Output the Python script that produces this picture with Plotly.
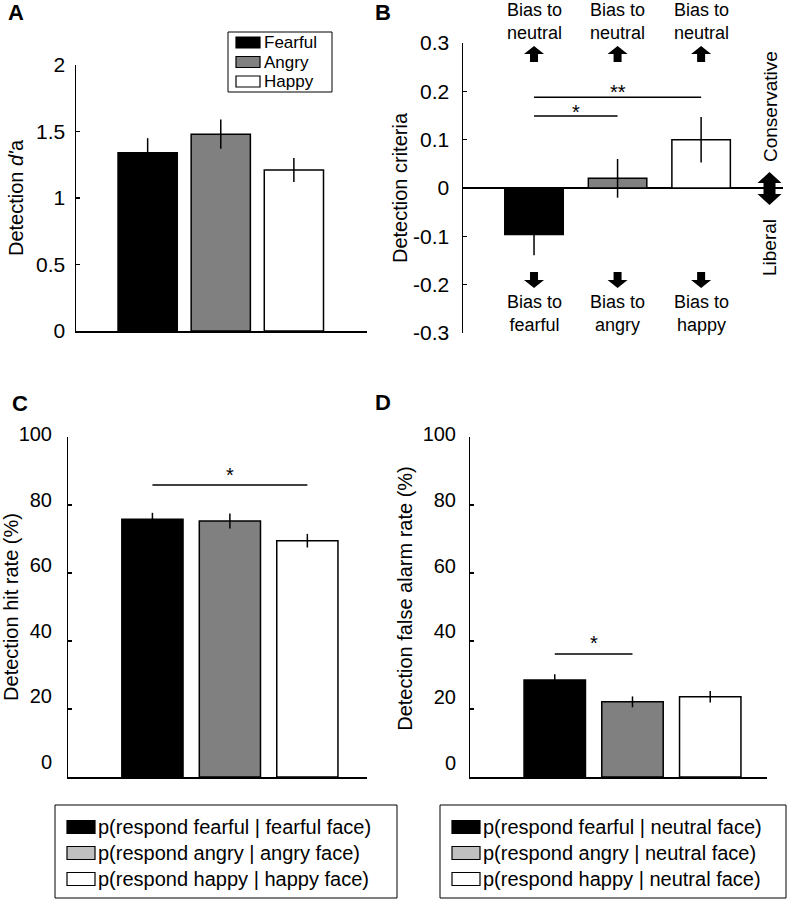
import plotly.graph_objects as go

W, H = 793, 903
FONT = "Arial, Liberation Sans, Helvetica, sans-serif"

# ---------------- data ----------------
emotions = ["Fearful", "Angry", "Happy"]
a_dprime = [1.34, 1.48, 1.21]
a_err = [0.11, 0.11, 0.09]
b_criteria = [-0.096, 0.02, 0.10]
b_err = [0.043, 0.040, 0.047]
c_hit = [75.8, 75.3, 69.5]
c_err = [1.9, 2.2, 2.0]
d_fa = [28.5, 22.1, 23.6]
d_err = [1.7, 1.6, 1.7]

c_legend_names = ["p(respond fearful | fearful face)",
                  "p(respond angry | angry face)",
                  "p(respond happy | happy face)"]
d_legend_names = ["p(respond fearful | neutral face)",
                  "p(respond angry | neutral face)",
                  "p(respond happy | neutral face)"]
b_top_words = ["neutral", "neutral", "neutral"]
b_bottom_words = ["fearful", "angry", "happy"]

a_ticks = [0, 0.5, 1, 1.5, 2]
b_ticks = [-0.3, -0.2, -0.1, 0, 0.1, 0.2, 0.3]
b_ticktext = ["-0.3", "-0.2", "-0.1", "0", "0.1", "0.2", "0.3"]
pct_ticks = [0, 20, 40, 60, 80, 100]

# ---------------- style ----------------
bar_colors = ["#000000", "#808080", "#ffffff"]
legend_cd_colors = ["#000000", "#c0c0c0", "#ffffff"]
LW = 1.5


def fx(px):
    return px / W


def fy(py):
    return 1 - py / H


fig = go.Figure()


def add_bars(vals, errs, xa, ya, width, names):
    for i, (v, e) in enumerate(zip(vals, errs)):
        fig.add_trace(go.Bar(
            x=[i], y=[v], width=[width],
            marker=dict(color=bar_colors[i], line=dict(color="black", width=LW)),
            error_y=dict(type="data", array=[e], color="black", thickness=LW, width=0),
            name=names[i], showlegend=False,
            xaxis=xa, yaxis=ya, hoverinfo="skip",
        ))


add_bars(a_dprime, a_err, "x", "y", 0.81, emotions)
add_bars(b_criteria, b_err, "x2", "y2", 0.70, emotions)
add_bars(c_hit, c_err, "x3", "y3", 0.79, c_legend_names)
add_bars(d_fa, d_err, "x4", "y4", 0.79, d_legend_names)

# label-only axes for C and D (labels sit slightly compressed relative to ticks)
fig.add_trace(go.Scatter(x=[None], y=[None], xaxis="x5", yaxis="y5", showlegend=False, hoverinfo="skip"))
fig.add_trace(go.Scatter(x=[None], y=[None], xaxis="x6", yaxis="y6", showlegend=False, hoverinfo="skip"))

tick_common = dict(ticks="inside", ticklen=4, tickwidth=LW, tickcolor="black",
                   showline=True, linecolor="black", linewidth=LW,
                   showgrid=False, zeroline=False, automargin=False)
hid_x = dict(showgrid=False, zeroline=False, showticklabels=False, ticks="", automargin=False)

layout = dict(
    template="none",
    width=W, height=H, margin=dict(l=0, r=0, t=0, b=0, pad=0, autoexpand=False),
    paper_bgcolor="white", plot_bgcolor="rgba(0,0,0,0)",
    font=dict(family=FONT, color="black"),
    barmode="overlay", hovermode=False, showlegend=False,
    # ---- A ----
    xaxis=dict(domain=[fx(76), fx(367)], range=[-0.98, 3.0], anchor="y",
               showline=True, linecolor="black", linewidth=LW, **hid_x),
    yaxis=dict(domain=[fy(331), fy(65)], range=[0, 2], anchor="x",
               tickvals=a_ticks, tickfont=dict(size=21), ticklabelstandoff=5,
               title=dict(text="Detection <i>d'</i>a", font=dict(size=20), standoff=7),
               **tick_common),
    # ---- B ----
    xaxis2=dict(domain=[fx(463), fx(783)], range=[-0.85, 2.98], anchor="y2",
                showline=False, **hid_x),
    yaxis2=dict(domain=[fy(333), fy(43)], range=[-0.3, 0.3], anchor="x2",
                tickvals=b_ticks, ticktext=b_ticktext, tickfont=dict(size=21),
                ticklabelstandoff=8, automargin=False,
                title=dict(text="Detection criteria", font=dict(size=20), standoff=0),
                ticks="inside", ticklen=4, tickwidth=LW, tickcolor="black",
                showline=True, linecolor="black", linewidth=LW, showgrid=False,
                zeroline=True, zerolinecolor="black", zerolinewidth=LW),
    # ---- C ----
    xaxis3=dict(domain=[fx(68), fx(367)], range=[-1.09, 2.77], anchor="y3",
                showline=True, linecolor="black", linewidth=LW, **hid_x),
    yaxis3=dict(domain=[fy(777), fy(437)], range=[0, 100], anchor="x3",
                tickvals=pct_ticks, showticklabels=False,
                title=dict(text="Detection hit rate (%)", font=dict(size=20), standoff=44),
                **tick_common),
    xaxis5=dict(domain=[fx(68), fx(367)], range=[-1.09, 2.77], anchor="y5", visible=False),
    yaxis5=dict(domain=[fy(762), fy(434)], range=[0, 100], anchor="x5",
                tickvals=pct_ticks, tickfont=dict(size=20), ticklabelstandoff=15,
                showline=False, ticks="", showgrid=False, zeroline=False, automargin=False),
    # ---- D ----
    xaxis4=dict(domain=[fx(470), fx(767)], range=[-1.09, 2.73], anchor="y4",
                showline=True, linecolor="black", linewidth=LW, **hid_x),
    yaxis4=dict(domain=[fy(777), fy(437)], range=[0, 100], anchor="x4",
                tickvals=pct_ticks, showticklabels=False, **tick_common),
    xaxis6=dict(domain=[fx(470), fx(767)], range=[-1.09, 2.73], anchor="y6", visible=False),
    yaxis6=dict(domain=[fy(763), fy(434)], range=[0, 100], anchor="x6",
                tickvals=pct_ticks, tickfont=dict(size=20), ticklabelstandoff=13,
                title=dict(text="Detection false alarm rate (%)", font=dict(size=20), standoff=4),
                showline=False, ticks="", showgrid=False, zeroline=False, automargin=False),
)
fig.update_layout(**layout)

ann = []
shapes = []

# panel letters
for letter, (px, py) in zip("ABCD", [(16, 13), (383, 13), (20, 403), (383, 402)]):
    ann.append(dict(text=f"<b>{letter}</b>", x=fx(px), y=fy(py), xref="paper", yref="paper",
                    showarrow=False, font=dict(size=22), xanchor="center", yanchor="middle"))

# significance bars
sig = [
    ("x2", "y2", 0, 1, 0.149, "*", -9),
    ("x2", "y2", 0, 2, 0.188, "**", -8),
    ("x3", "y3", 0, 2, 85.9, "*", -3),
    ("x4", "y4", 0, 1, 36.2, "*", -2),
]
for xa, ya, i0, i1, yv, star, ys in sig:
    shapes.append(dict(type="line", xref=xa, yref=ya, x0=i0, x1=i1, y0=yv, y1=yv,
                       line=dict(color="black", width=LW)))
    ann.append(dict(text=star, x=(i0 + i1) / 2, y=yv, xref=xa, yref=ya, showarrow=False,
                    xanchor="center", yanchor="bottom", yshift=ys, font=dict(size=20)))

# B: bias labels and arrows
for i in range(3):
    ann.append(dict(text="Bias to<br>" + b_top_words[i], x=i, y=fy(21.5), xref="x2", yref="paper",
                    showarrow=False, font=dict(size=18), xanchor="center", yanchor="middle"))
    ann.append(dict(text="Bias to<br>" + b_bottom_words[i], x=i, y=fy(313), xref="x2", yref="paper",
                    showarrow=False, font=dict(size=18), xanchor="center", yanchor="middle"))
    # up arrow
    shapes.append(dict(type="path", xref="x2", yref="paper", xsizemode="pixel", ysizemode="pixel",
                       xanchor=i, yanchor=fy(54),
                       path="M 0 8 L 10 0 L 4 0 L 4 -8 L -4 -8 L -4 0 L -10 0 Z",
                       fillcolor="black", line=dict(width=0)))
    # down arrow
    shapes.append(dict(type="path", xref="x2", yref="paper", xsizemode="pixel", ysizemode="pixel",
                       xanchor=i, yanchor=fy(280),
                       path="M 0 -8 L 10 0 L 4 0 L 4 8 L -4 8 L -4 0 L -10 0 Z",
                       fillcolor="black", line=dict(width=0)))

# double arrow (conservative / liberal)
shapes.append(dict(type="path", xref="paper", yref="paper", xsizemode="pixel", ysizemode="pixel",
                   xanchor=fx(769.5), yanchor=fy(188.5),
                   path="M 0 16.5 L 12 5.5 L 6 5.5 L 6 -5.5 L 12 -5.5 L 0 -16.5 L -12 -5.5 "
                        "L -6 -5.5 L -6 5.5 L -12 5.5 Z",
                   fillcolor="black", line=dict(width=0)))
ann.append(dict(text="Conservative", x=fx(770), y=fy(107), xref="paper", yref="paper",
                showarrow=False, textangle=-90, font=dict(size=19),
                xanchor="center", yanchor="middle"))
ann.append(dict(text="Liberal", x=fx(770), y=fy(248), xref="paper", yref="paper",
                showarrow=False, textangle=-90, font=dict(size=19),
                xanchor="center", yanchor="middle"))


# ---------------- legends (boxes with keys and labels) ----------------
def add_legend(box, key_x, text_x, rows, key_h, names, colors, size):
    x0, y0, x1, y1 = box
    shapes.append(dict(type="rect", xref="paper", yref="paper",
                       x0=fx(x0), x1=fx(x1), y0=fy(y0), y1=fy(y1),
                       line=dict(color="black", width=1), fillcolor="white"))
    for name, col, ry in zip(names, colors, rows):
        shapes.append(dict(type="rect", xref="paper", yref="paper",
                           x0=fx(key_x[0]), x1=fx(key_x[1]),
                           y0=fy(ry - key_h / 2), y1=fy(ry + key_h / 2),
                           line=dict(color="black", width=1.2), fillcolor=col))
        ann.append(dict(text=name, x=fx(text_x), y=fy(ry), xref="paper", yref="paper",
                        showarrow=False, xanchor="left", yanchor="middle",
                        font=dict(size=size)))


add_legend((228, 32, 332, 92), (236, 260), 262, [42.5, 62, 81.5], 11, emotions, bar_colors, 17)
add_legend((55, 805, 397, 898), (67, 95), 96, [827, 853, 879], 13, c_legend_names, legend_cd_colors, 20)
add_legend((440, 805, 786, 898), (452, 480), 481, [827, 853, 879], 13, d_legend_names, legend_cd_colors, 20)

fig.update_layout(annotations=ann, shapes=shapes)
# the figure fills the whole window: drop the page's default body margin, no mode bar
fig.write_html("out.html", config={"displayModeBar": False, "staticPlot": True},
               post_script="document.body.style.margin='0px';document.body.style.overflow='hidden';")
